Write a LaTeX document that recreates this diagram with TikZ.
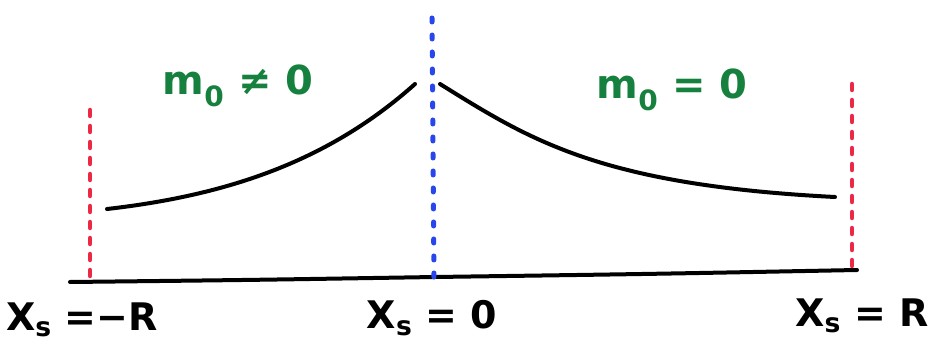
\documentclass[tikz,border=0pt]{standalone}
\usepackage{fontspec}
\setmainfont{DejaVu Sans}
\definecolor{hgreen}{RGB}{22,128,62}
\definecolor{hred}{RGB}{235,40,70}
\definecolor{hblue}{RGB}{40,70,235}
\tikzset{
  curve/.style={line width=4pt, black, line cap=round, line join=round},
  redline/.style={hred, line width=4.5pt, dash pattern=on 6pt off 10pt, line cap=round},
  blueline/.style={hblue, line width=5pt, dash pattern=on 4pt off 13pt, line cap=round},
  glabel/.style={text=hgreen, font=\fontsize{40}{42}\selectfont\bfseries, inner sep=0pt},
  blabel/.style={text=black, font=\fontsize{38}{40}\selectfont\bfseries, inner sep=0pt}
}
\begin{document}
\begin{tikzpicture}[x=1pt,y=-1pt]
\useasboundingbox (0,0) rectangle (931,342);
\coordinate (bl) at (70,282);
\coordinate (bm) at (435,277);
\coordinate (br) at (857,270);
\coordinate (rlt) at (90,110);
\coordinate (rlb) at (90,283);
\coordinate (rrt) at (852,84);
\coordinate (rrb) at (852,272);
\coordinate (bt) at (432,18);
\coordinate (bb) at (434,278);
% baseline
\draw[curve] (bl) .. controls (250,280) .. (bm) .. controls (650,274) .. (br);
% boundaries
\draw[redline] (rlt) -- (rlb);
\draw[redline] (rrt) -- (rrb);
\draw[blueline] (bt) -- (bb);
% curves
\draw[curve] (107,209) .. controls (230,195) and (330,160) .. (415,84);
\draw[curve] (440,84) .. controls (530,140) and (600,185) .. (835,197);
% labels
\node[glabel] (m1) at (238,86) {m\textsubscript{0} ≠ 0};
\node[glabel] (m2) at (672,90) {m\textsubscript{0} = 0};
\node[blabel] (l1) at (82,320) {X\textsubscript{s} =−R};
\node[blabel] (l2) at (432,318) {X\textsubscript{s} = 0};
\node[blabel] (l3) at (862,316) {X\textsubscript{s} = R};
\end{tikzpicture}
\end{document}
